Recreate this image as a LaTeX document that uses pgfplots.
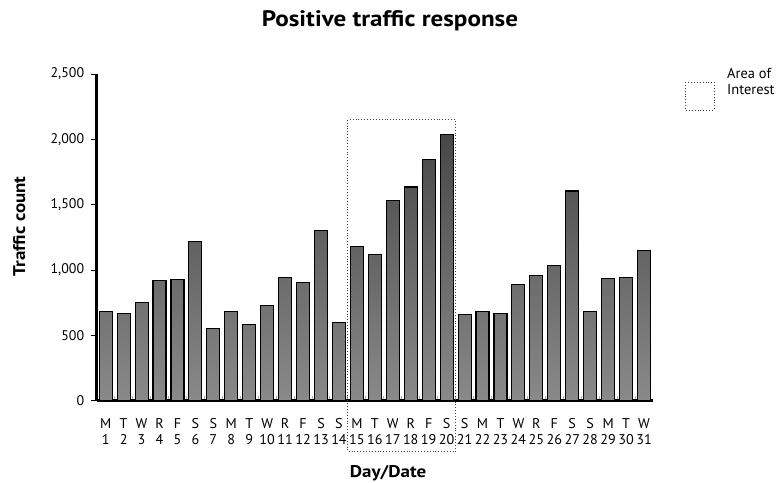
\documentclass[border=0pt]{standalone}
\usepackage{fontspec}
\setmainfont{PT Sans}
\newfontfamily\widebold[FakeStretch=1.12]{PT Sans Bold}
\usepackage{pgfplots}
\pgfplotsset{compat=1.18}

\begin{document}
\begin{tikzpicture}
\path[use as bounding box] (0bp,0bp) rectangle (780bp,-483bp);
\begin{axis}[
  at={(96.7bp,-400.7bp)}, anchor=south west,
  width=556.3bp, height=326.7bp, scale only axis,
  xmin=0.5, xmax=31.5, ymin=0, ymax=2500,
  axis x line*=bottom, axis y line*=left,
  axis line style={line width=3bp, black},
  clip=false,
  tick align=outside,
  major tick length=6bp,
  minor tick length=5bp,
  ytick={0,500,...,2500},
  y tick style={line width=1bp, black},
  /pgf/number format/1000 sep={,},
  /pgf/number format/assume math mode=true,
  yticklabel style={font=\fontsize{14}{16}\selectfont, xshift=-3bp},
  xtick={1,...,31},
  major x tick style={draw=none},
  minor xtick={1.5,2.5,...,30.5},
  minor x tick style={yshift=5bp, line width=1bp, black!30},
  xticklabels={M\\1, T\\2, W\\3, R\\4, F\\5, S\\6, S\\7, M\\8, T\\9, W\\10, R\\11, F\\12, S\\13, S\\14, M\\15, T\\16, W\\17, R\\18, F\\19, S\\20, S\\21, M\\22, T\\23, W\\24, R\\25, F\\26, S\\27, S\\28, M\\29, T\\30, W\\31},
  xticklabel style={font=\fontsize{14.2}{16.6}\selectfont, align=center, inner xsep=0pt, yshift=-8bp},
]
% bars grouped by height, so the darker tops follow the taller bars
\addplot[/pgfplots/ybar, bar width=13bp, bar shift=0pt, draw=black, line width=1.1bp, top color=black!55, bottom color=black!46]
  coordinates {(1,680) (2,670) (7,555) (8,685) (9,580) (14,600) (21,660) (22,680) (23,670) (28,685)};
\addplot[/pgfplots/ybar, bar width=13bp, bar shift=0pt, draw=black, line width=1.1bp, top color=black!58, bottom color=black!46]
  coordinates {(3,750) (4,920) (5,930) (10,730) (11,945) (12,905) (24,890) (25,955) (29,935) (30,945)};
\addplot[/pgfplots/ybar, bar width=13bp, bar shift=0pt, draw=black, line width=1.1bp, top color=black!62, bottom color=black!46]
  coordinates {(6,1220) (15,1180) (16,1120) (26,1035) (31,1150)};
\addplot[/pgfplots/ybar, bar width=13bp, bar shift=0pt, draw=black, line width=1.1bp, top color=black!67, bottom color=black!46]
  coordinates {(13,1305) (17,1535) (18,1635) (27,1605)};
\addplot[/pgfplots/ybar, bar width=13bp, bar shift=0pt, draw=black, line width=1.1bp, top color=black!72, bottom color=black!46]
  coordinates {(19,1845) (20,2035)};
% area of interest
\draw[dotted, line width=0.9bp, black!75] (axis cs:14.5,2150) rectangle (axis cs:20.5,-390);
\end{axis}
% title and axis labels
\node[anchor=base, font=\fontsize{22.5}{26}\widebold] at (390bp,-26bp) {Positive traffic response};
\node[anchor=base, rotate=90, font=\fontsize{17}{20}\widebold] at (25bp,-226.5bp) {Traffic count};
\node[anchor=base, font=\fontsize{17}{20}\widebold] at (388bp,-477bp) {Day/Date};
% legend
\draw[dotted, line width=0.9bp, black!75] (685bp,-82bp) rectangle (714bp,-110bp);
\node[anchor=base west, inner sep=0pt, font=\fontsize{14.5}{16}\selectfont, align=left] at (727bp,-94bp) {Area of\\Interest};
\end{tikzpicture}
\end{document}
